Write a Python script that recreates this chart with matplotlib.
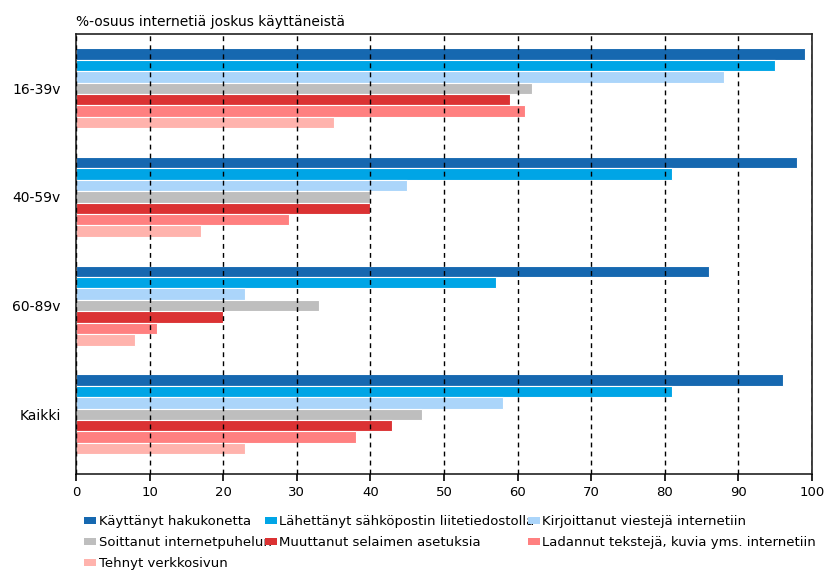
import matplotlib
matplotlib.use("Agg")
import matplotlib.pyplot as plt
import numpy as np

plt.rcParams['font.family'] = ['DejaVu Sans']

categories = ['16-39v', '40-59v', '60-89v', 'Kaikki']
series_names = [
    'Käyttänyt hakukonetta',
    'Lähettänyt sähköpostin liitetiedostolla',
    'Kirjoittanut viestejä internetiin',
    'Soittanut internetpuhelun',
    'Muuttanut selaimen asetuksia',
    'Ladannut tekstejä, kuvia yms. internetiin',
    'Tehnyt verkkosivun',
]
hakukone = [99, 98, 86, 96]
sahkoposti = [95, 81, 57, 81]
viestit = [88, 45, 23, 58]
puhelu = [62, 40, 33, 47]
selain = [59, 40, 20, 43]
ladannut = [61, 29, 11, 38]
verkkosivu = [35, 17, 8, 23]
series_values = [hakukone, sahkoposti, viestit, puhelu, selain, ladannut, verkkosivu]
colors = ['#1668B0', '#00A5E6', '#ABD5FA', '#BEBEBE', '#DB3233', '#FF8080', '#FFB3AD']
xticks = [0, 10, 20, 30, 40, 50, 60, 70, 80, 90, 100]

fig = plt.figure(figsize=(8.26, 5.72), dpi=100)
ax = fig.add_axes([76/826, 1-474/572, (812-76)/826, (474-34)/572])

y = np.arange(len(categories))
h = 0.105
handles = []
for i, (name, vals, c) in enumerate(zip(series_names, series_values, colors)):
    b = ax.barh(y + (i - 3) * h, vals, height=h, color=c, edgecolor='white',
                linewidth=0.8, label=name, zorder=1)
    handles.append(b)

ax.set_xlim(0, 100)
ax.set_ylim(3.55, -0.5)
ax.set_yticks(y)
ax.set_yticklabels(categories)
ax.set_xticks(xticks)
ax.tick_params(axis='y', length=0, pad=11, labelsize=10)
ax.tick_params(axis='x', length=5, width=1.2, pad=4, labelsize=9.5, direction='out')
ax.set_axisbelow(False)
ax.grid(axis='x', color='black', linestyle=(0, (3.5, 3)), linewidth=1.0)
ax.grid(axis='y', visible=False)
for s in ax.spines.values():
    s.set_linewidth(1.2)
    s.set_color('#222222')

fig.text(76/826, 1-22/572, '%-osuus internetiä joskus käyttäneistä',
         fontsize=10, va='center', ha='left')

order = [0, 3, 6, 1, 4, 2, 5]
leg = fig.legend([handles[k] for k in order], [series_names[k] for k in order],
                 loc='upper left', bbox_to_anchor=(84/826, 1-515/572), ncol=3,
                 frameon=False, fontsize=9.5, handlelength=0.9, handleheight=0.5,
                 handletextpad=0.2, columnspacing=-0.5, borderpad=0, borderaxespad=0,
                 labelspacing=0.62)
for p in leg.get_patches():
    p.set_edgecolor('none')

fig.savefig('out.png', dpi=100)
